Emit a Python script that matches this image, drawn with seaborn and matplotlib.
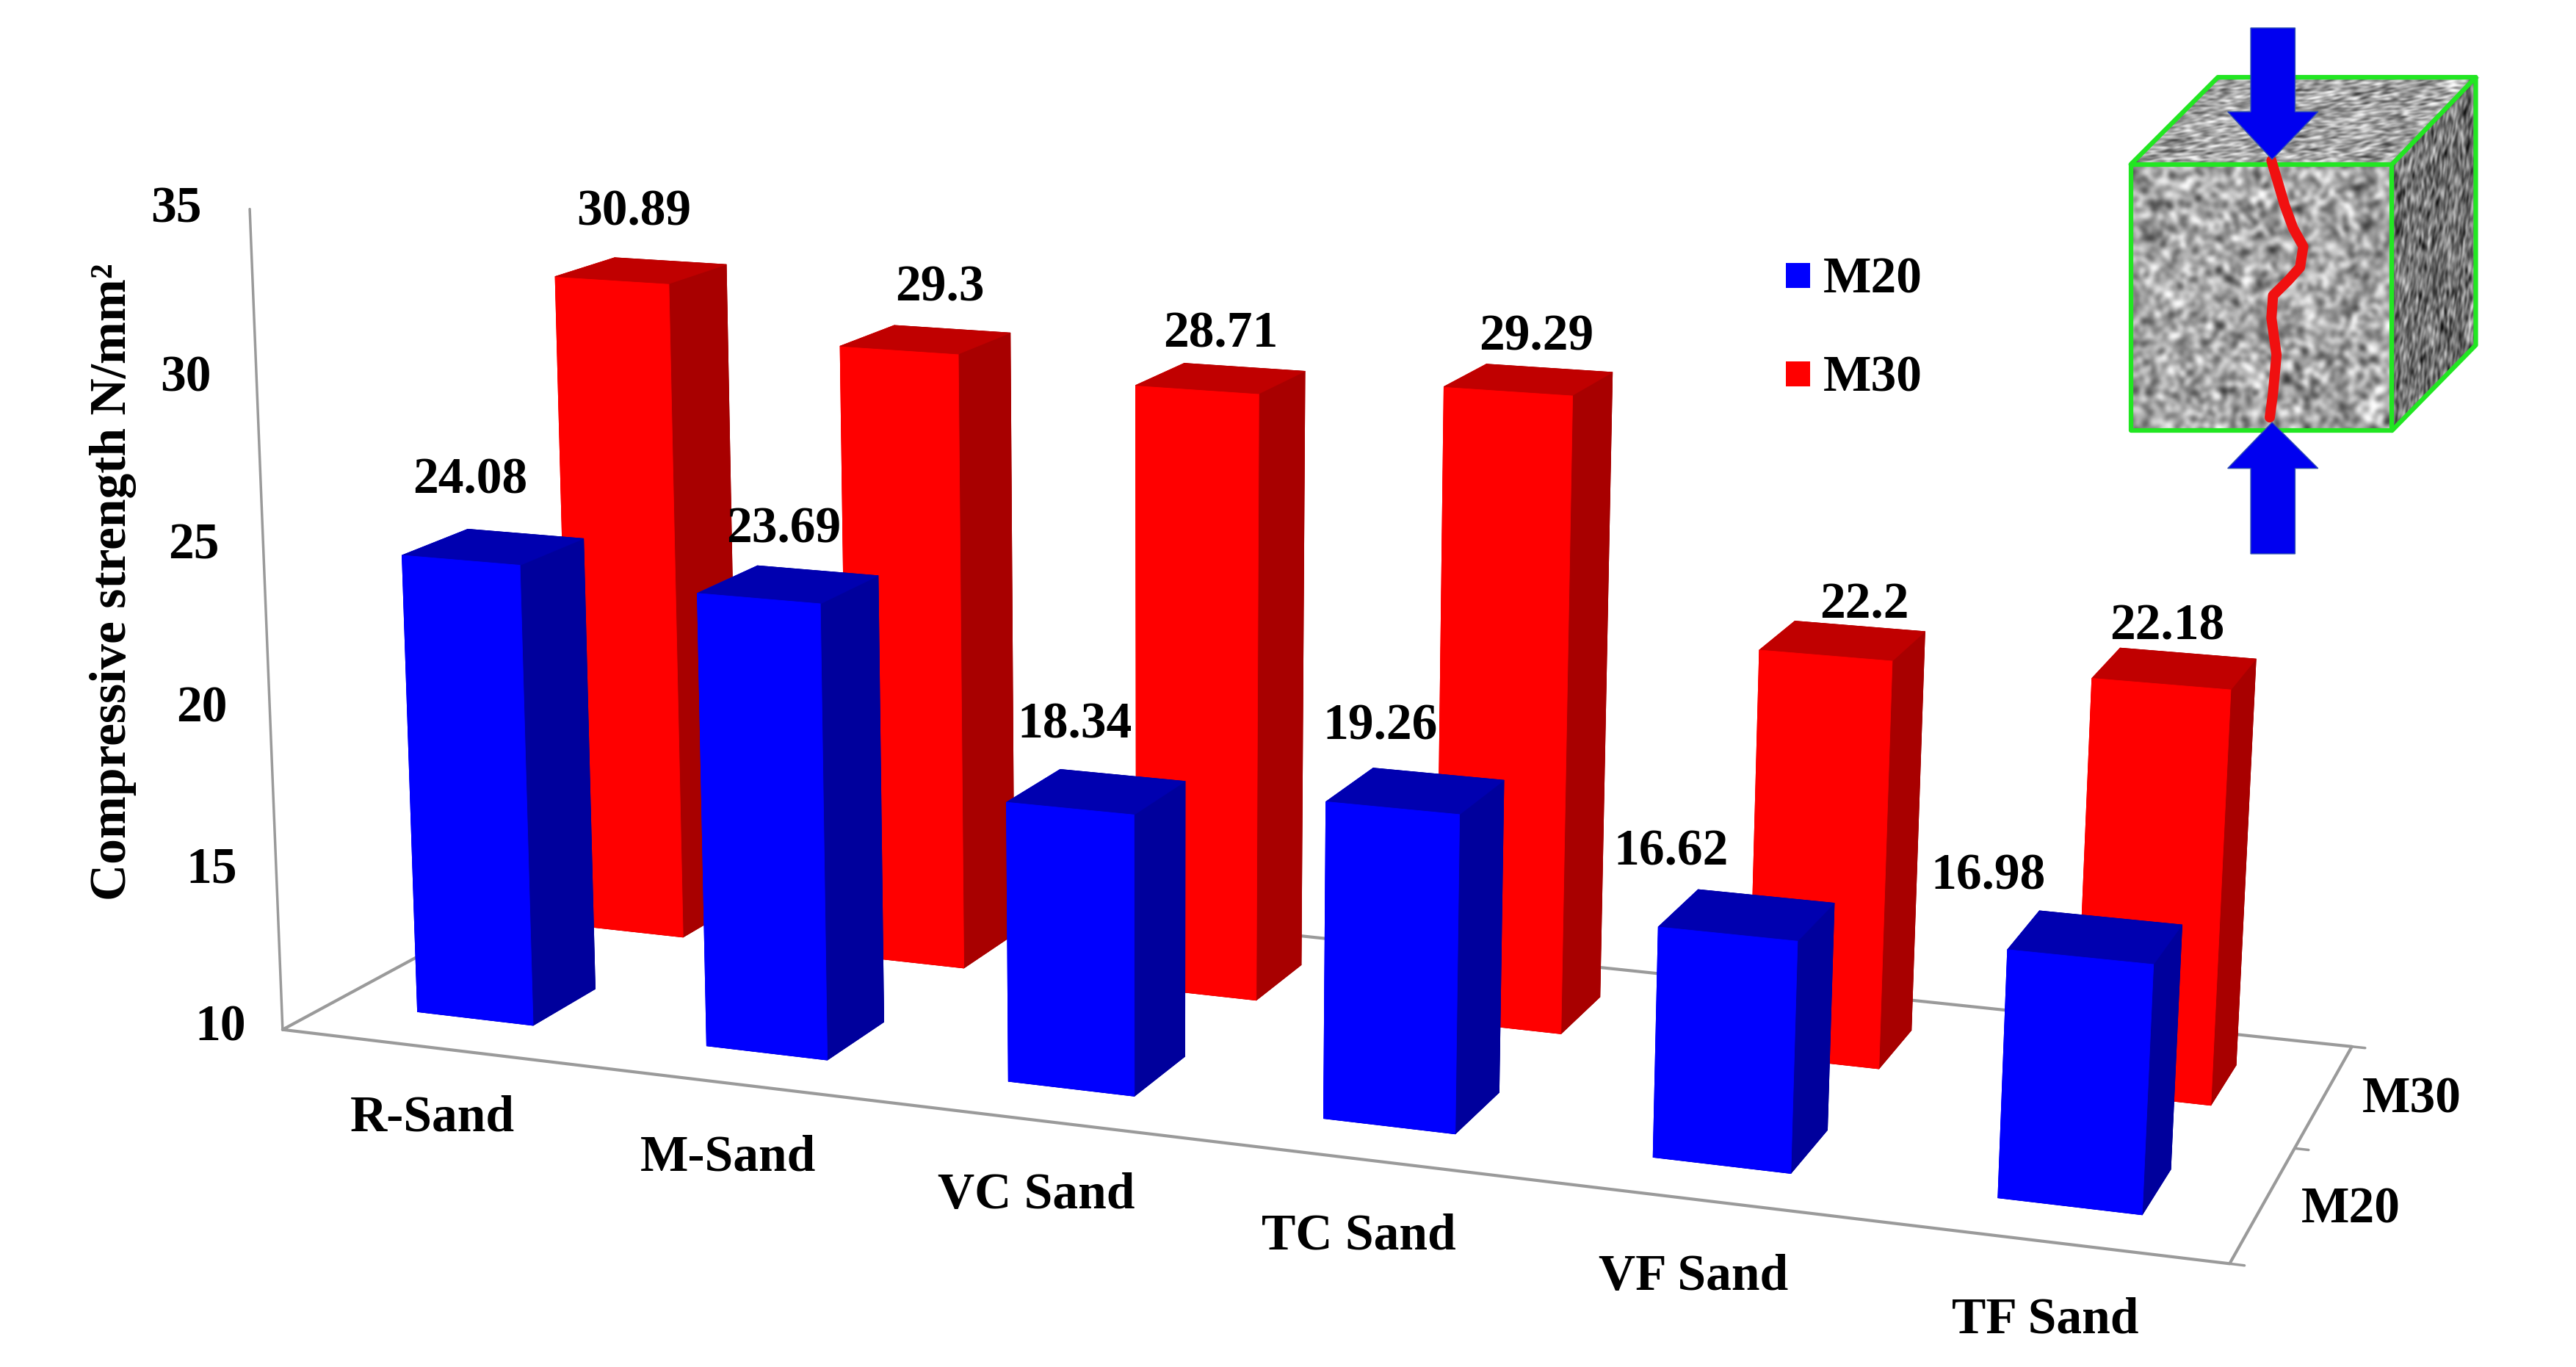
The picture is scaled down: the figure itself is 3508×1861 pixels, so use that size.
import numpy as np
import pandas as pd
import matplotlib
matplotlib.use("Agg")
import matplotlib.pyplot as plt
from matplotlib.patches import Polygon, Rectangle
from matplotlib.transforms import Affine2D
import seaborn as sns

#---------- Data ----------
sands = ["R-Sand", "M-Sand", "VC Sand", "TC Sand", "VF Sand", "TF Sand"]
grades = ["M20", "M30"]
m20 = [24.08, 23.69, 18.34, 19.26, 16.62, 16.98]
m30 = [30.89, 29.3, 28.71, 29.29, 22.2, 22.18]
m20_text = ["24.08", "23.69", "18.34", "19.26", "16.62", "16.98"]
m30_text = ["30.89", "29.3", "28.71", "29.29", "22.2", "22.18"]
z_ticks = ["10", "15", "20", "25", "30", "35"]

#---------- Where the texts sit (picture coordinates) ----------
m20_label_xy = [(286, 290), (477, 320), (654, 439), (840, 440), (1017, 516), (1210, 531)]
m30_label_xy = [(386, 127), (572, 173), (743, 201), (935, 203), (1135, 366), (1319, 379)]
sand_label_xy = [(263, 678), (443, 702), (631, 725), (827, 750), (1031, 775), (1245, 801)]
z_tick_xy = [(134, 623), (129, 527), (123, 429), (118, 330), (113, 228), (107, 125)]

df = pd.DataFrame({"sand": sands, "M20": m20, "M30": m30})

sns.set_theme(style="white")
plt.rcParams["font.family"] = ["Liberation Serif", "DejaVu Serif"]
plt.rcParams["font.weight"] = "bold"

front = {"M20": "#0000ff", "M30": "#ff0000"}
side = {"M20": "#00009c", "M30": "#a80000"}
top = {"M20": "#0000b0", "M30": "#c00000"}
GRAY = "#9a9a9a"

fig = plt.figure(figsize=(35.08, 18.61), dpi=100, facecolor="white")

# 3D axes, big on purpose: the camera has to sit where the picture's camera is
S = 3581
ax = fig.add_axes([-257 / 3508, -927.4 / 1861, S / 3508, S / 1861], projection="3d", computed_zorder=False)
ax.set_xlim(-0.214, 6, view_margin=0)
ax.set_ylim(-1.912, 2, view_margin=0)
ax.set_zlim(10, 35, view_margin=0)
ax.set_box_aspect((1.402, 0.933, 0.584), zoom=1.0218)
ax.view_init(elev=13.5, azim=-69)
ax.set_proj_type("persp", focal_length=0.376)
ax.set_axis_off()
ax.patch.set_alpha(0)

#---------- Floor and axis lines ----------
ax.plot([0, 6, 6, 0, 0], [0, 0, 2, 2, 0], [10] * 5, color=GRAY, lw=3, zorder=1)
ax.plot([0, 0], [0, 0], [10, 34.65], color=GRAY, lw=2.5, zorder=1)
for yt in [0, 1, 2]:
    ax.plot([6, 6.04], [yt, yt], [10, 10], color=GRAY, lw=2.5, zorder=1)

#---------- Bars: red row first, blue row in front ----------
BAR_W = 0.405
BAR_D = 0.40
for row, grade in [(1, "M30"), (0, "M20")]:
    for i, val in enumerate(df[grade]):
        # face order of bar3d: -z, +z, -y, +y, -x, +x
        cols = [side[grade], top[grade], front[grade], side[grade], front[grade], side[grade]]
        ax.bar3d(i + 0.5 - BAR_W / 2, row + 0.5 - BAR_D / 2, 10, BAR_W, BAR_D, val - 10,
                 color=cols, shade=False, linewidth=0.6, edgecolor=cols, zorder=2 + row * -1)

#---------- Overlay in picture coordinates ----------
PIC_W, PIC_H = 1568, 1568 * 1861 / 3508
ov = fig.add_axes([0, 0, 1, 1], zorder=5)
ov.set_xlim(0, PIC_W)
ov.set_ylim(PIC_H, 0)
ov.axis("off")
ov.patch.set_alpha(0)

TEXT_DY = 2.5

def label(xy, s, size=50):
    ov.text(xy[0], xy[1] + TEXT_DY, s, ha="center", va="center", fontsize=size, color="black", fontweight="bold")

for xy, s in zip(m20_label_xy, m20_text):
    label(xy, s)
for xy, s in zip(m30_label_xy, m30_text):
    label(xy, s)
for xy, s in zip(sand_label_xy, sands):
    label(xy, s)
for xy, s in zip(z_tick_xy, z_ticks):
    label(xy, s)
label((1468, 667), grades[1])
label((1431, 734), grades[0])
ov.text(69, 354, "Compressive strength N/mm\u00b2", rotation=90, ha="center", va="center",
        fontsize=50, color="black", fontweight="bold")

#---------- Legend ----------
ov.add_patch(Rectangle((1087, 160), 15, 15, color=front["M20"], lw=0))
ov.add_patch(Rectangle((1087, 220), 15, 15, color=front["M30"], lw=0))
ov.text(1110, 168 + TEXT_DY, grades[0], ha="left", va="center", fontsize=50, color="black", fontweight="bold")
ov.text(1110, 228 + TEXT_DY, grades[1], ha="left", va="center", fontsize=50, color="black", fontweight="bold")

#---------- Cube inset ----------
n = 90
jj, ii = np.mgrid[0:n, 0:n]
grain = (np.sin(ii * 12.9898 + jj * 78.233) * 43758.5453) % 1
kernel = np.array([1, 2, 1]) / 4
grain = np.apply_along_axis(lambda v: np.convolve(np.r_[v[-1], v, v[0]], kernel, mode="valid"), 0, grain)
grain = np.apply_along_axis(lambda v: np.convolve(np.r_[v[-1], v, v[0]], kernel, mode="valid"), 1, grain)
grain = (grain - grain.mean()) / grain.std()

def face(p0, p1, p3, shade):
    # image square (0..1) mapped on the parallelogram p0, p1, p3
    mat = [[p1[0] - p0[0], p3[0] - p0[0], p0[0]],
           [p1[1] - p0[1], p3[1] - p0[1], p0[1]],
           [0, 0, 1]]
    tr = Affine2D(np.array(mat, dtype=float)) + ov.transData
    ov.imshow(np.clip(shade + 36 * grain, 0, 255), cmap="gray", vmin=0, vmax=255, extent=(0, 1, 0, 1),
              origin="lower", interpolation="bicubic", transform=tr, aspect="auto", zorder=1)

xa, xb, xc = 1297, 1456, 1507
ya, yb, yc, yd = 47, 100, 210, 262
xt = 1350
face((xa, yb), (xb, yb), (xa, yd), 165)
face((xa, yb), (xb, yb), (xt, ya), 165)
face((xb, yb), (xc, ya), (xb, yd), 115)
ov.set_xlim(0, PIC_W)
ov.set_ylim(PIC_H, 0)

GREEN = "#22e622"
ov.plot([xa, xb, xb, xa, xa], [yb, yb, yd, yd, yb], color=GREEN, lw=4.5, zorder=2)
ov.plot([xa, xt, xc, xb], [yb, ya, ya, yb], color=GREEN, lw=4.5, zorder=2)
ov.plot([xc, xc, xb], [ya, yc, yd], color=GREEN, lw=4.5, zorder=2)

crack_x = [1382.6, 1390.7, 1395.8, 1402, 1400, 1392.8, 1383.6, 1382.6, 1385.7, 1383.6, 1381.6]
crack_y = [97.7, 125, 138.8, 150, 162.7, 170.7, 179.8, 193.5, 216, 239, 254]
ov.plot(crack_x, crack_y, color="#f01010", lw=10, zorder=3, solid_joinstyle="round")

arrow_down = [(1370, 17), (1397, 17), (1397, 68), (1411, 68), (1383, 97), (1356, 68), (1370, 68)]
arrow_up = [(1370, 337), (1397, 337), (1397, 285), (1411, 285), (1383, 257), (1356, 285), (1370, 285)]
for pts in [arrow_down, arrow_up]:
    ov.add_patch(Polygon(pts, closed=True, facecolor="#0000f0", edgecolor="#3050b0", lw=1, zorder=4))

fig.savefig("out.png", dpi=100)
